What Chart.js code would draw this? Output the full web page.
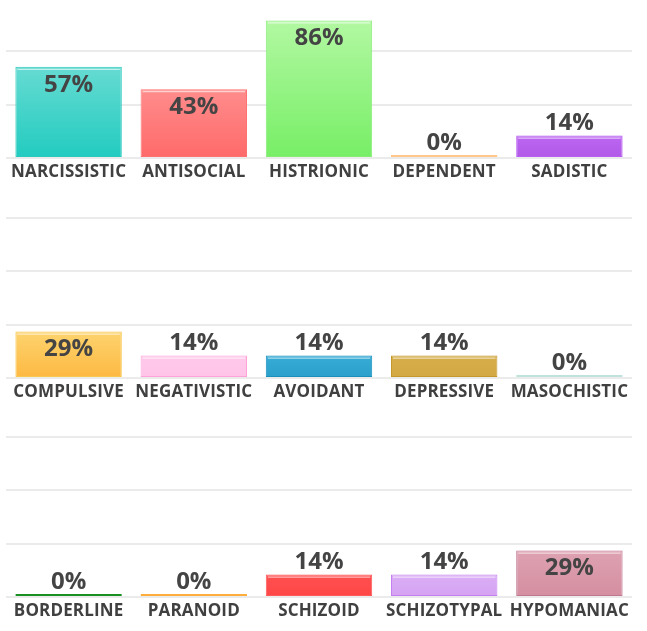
<!DOCTYPE html>
<html>
<head>
<meta charset="utf-8">
<script src="https://cdn.jsdelivr.net/npm/chart.js@4.4.1/dist/chart.umd.min.js"></script>
<style>
  body { margin: 0; background: #fff; overflow: hidden; }
  .row { position: absolute; left: 0; width: 647px; height: 220px; }
</style>
</head>
<body>
<div class="row" style="top:-4px"><canvas id="rowOne" width="647" height="220"></canvas></div>
<div class="row" style="top:216px"><canvas id="rowTwo" width="647" height="220"></canvas></div>
<div class="row" style="top:435px"><canvas id="rowThree" width="647" height="220"></canvas></div>
<script>
// scale labels / values (percent)
const rowOneLabels = ['NARCISSISTIC', 'ANTISOCIAL', 'HISTRIONIC', 'DEPENDENT', 'SADISTIC'];
const rowOneValues = [57, 43, 86, 0, 14];

const rowTwoLabels = ['COMPULSIVE', 'NEGATIVISTIC', 'AVOIDANT', 'DEPRESSIVE', 'MASOCHISTIC'];
const rowTwoValues = [29, 14, 14, 14, 0];

const rowThreeLabels = ['BORDERLINE', 'PARANOID', 'SCHIZOID', 'SCHIZOTYPAL', 'HYPOMANIAC'];
const rowThreeValues = [0, 0, 14, 14, 29];

const yTicks = [0, 33.33, 66.67, 100];

// [top, bottom, border]
const rowOneColors = [
  ['#66dbd2', '#22cbc0', '#2cc8bd'],
  ['#ff8c8c', '#ff6a6a', '#ff7272'],
  ['#b2f8a2', '#77ee66', '#86ec76'],
  ['#ffe0bc', '#ffe0bc', '#ffc88a'],
  ['#bb66f2', '#b259e8', '#b95ef0'],
];
const rowTwoColors = [
  ['#fdd36e', '#fdb942', '#f6c84e'],
  ['#ffc9ec', '#ffc4e8', '#ffa2d8'],
  ['#36acd6', '#2a9fcb', '#1a8fbb'],
  ['#d6ae4a', '#d2a844', '#c4982e'],
  ['#dcf2ec', '#dcf2ec', '#bfe3da'],
];
const rowThreeColors = [
  ['#8fd496', '#8fd496', '#1a8f22'],
  ['#ffd49a', '#ffd49a', '#ffad3d'],
  ['#ff5050', '#ff4646', '#ff5a5a'],
  ['#dbaef6', '#d4a2f2', '#c47ff0'],
  ['#dea2b2', '#d48ea0', '#c07890'],
];

/* value labels inside tall bars, above short ones, plus the thin top highlight */
const valueLabels = {
  id: 'valueLabels',
  beforeDraw(chart) {
    chart.ctx.letterSpacing = '0.15px';
  },
  afterDatasetsDraw(chart) {
    const { ctx } = chart;
    const meta = chart.getDatasetMeta(0);
    const values = chart.data.datasets[0].data;
    ctx.save();
    ctx.letterSpacing = '0px';
    meta.data.forEach((bar, i) => {
      const h = bar.base - bar.y;
      if (values[i] > 0 && h > 4) {
        ctx.fillStyle = 'rgba(255,255,255,0.75)';
        ctx.fillRect(bar.x - bar.width / 2 + 2, bar.y + 2, bar.width - 4, 1);
      }
      ctx.fillStyle = '#444444';
      ctx.font = 'bold 24px "Open Sans"';
      ctx.textAlign = 'center';
      ctx.textBaseline = 'middle';
      const y = h > 30 ? bar.y + 18 : bar.y - 12;
      ctx.fillText(values[i] + '%', bar.x, y);
    });
    ctx.restore();
  },
};

function makeRow(canvasId, labels, values, colors) {
  const ctx = document.getElementById(canvasId).getContext('2d');

  return new Chart(ctx, {
    type: 'bar',
    data: {
      labels,
      datasets: [
        {
          data: values,
          backgroundColor(c) {
            const col = colors[c.dataIndex];
            const { chart } = c;
            if (!chart.chartArea || !chart.scales.y) return col[1];
            const yScale = chart.scales.y;
            const top = yScale.getPixelForValue(c.raw || 0);
            const bottom = yScale.getPixelForValue(0);
            if (bottom - top < 1) return col[1];
            const g = chart.ctx.createLinearGradient(0, top, 0, bottom);
            g.addColorStop(0, col[0]);
            g.addColorStop(1, col[1]);
            return g;
          },
          borderColor: colors.map(col => col[2]),
          borderWidth: 1,
          borderSkipped: false,
          minBarLength: 3,
          barPercentage: 0.85,
          categoryPercentage: 1,
        },
      ],
    },
    options: {
      responsive: false,
      animation: false,
      layout: { padding: { left: 6, right: 15, top: 2, bottom: 0 } },
      plugins: {
        legend: { display: false },
        tooltip: { enabled: false },
      },
      scales: {
        x: {
          grid: { display: false, drawTicks: false },
          border: { display: false },
          afterFit(scale) {
            scale.height = 58;
          },
          ticks: {
            autoSkip: false,
            maxRotation: 0,
            padding: 4,
            color: '#404040',
            font: { family: '"Open Sans"', weight: 'bold', size: 17 },
          },
        },
        y: {
          min: 0,
          max: 100,
          afterBuildTicks(scale) {
            scale.ticks = yTicks.map(value => ({ value }));
          },
          grid: { color: '#ebebeb', lineWidth: 2, drawTicks: false },
          border: { display: false },
          ticks: { display: false },
        },
      },
    },
    plugins: [valueLabels],
  });
}

makeRow('rowOne', rowOneLabels, rowOneValues, rowOneColors);
makeRow('rowTwo', rowTwoLabels, rowTwoValues, rowTwoColors);
makeRow('rowThree', rowThreeLabels, rowThreeValues, rowThreeColors);
</script>
</body>
</html>
